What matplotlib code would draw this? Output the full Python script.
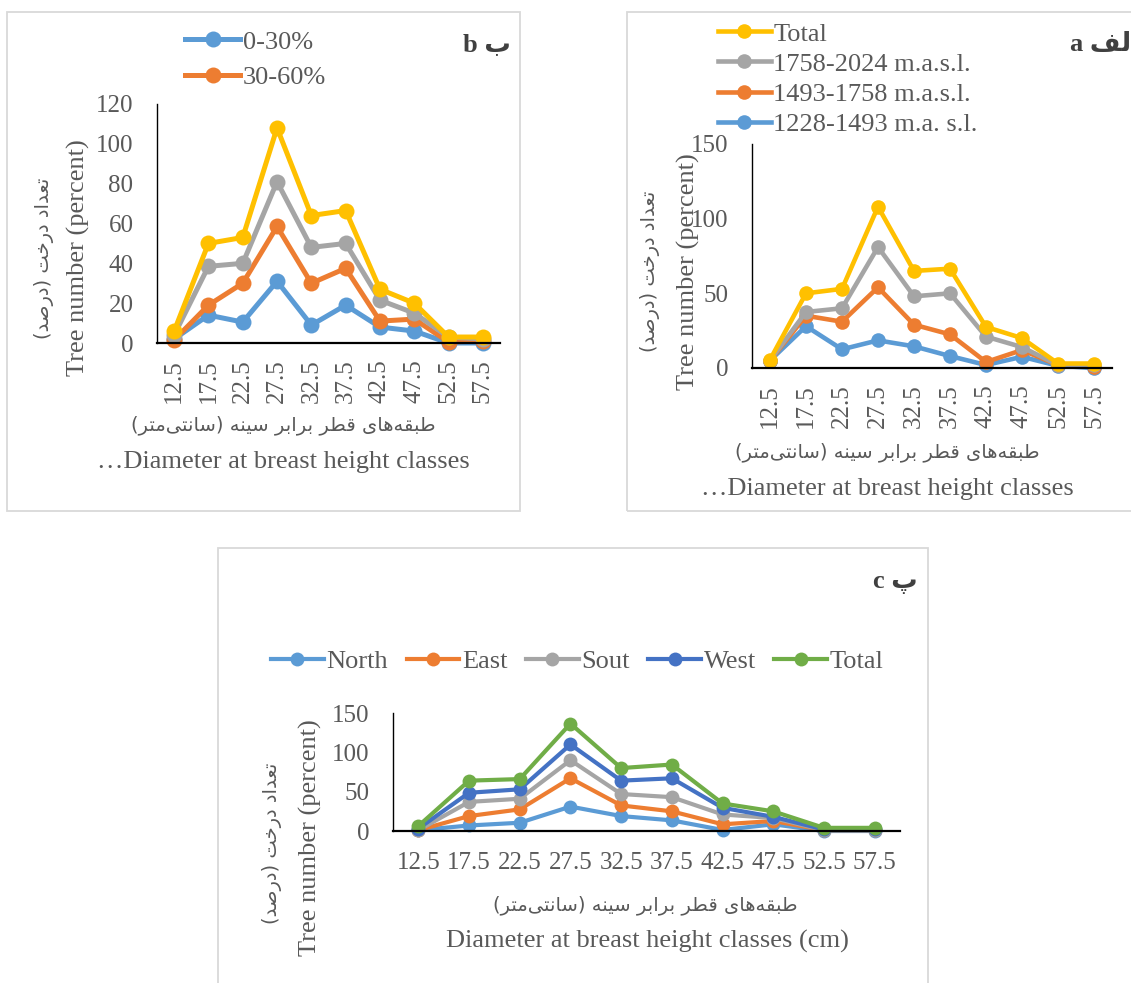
import matplotlib
matplotlib.use("Agg")
import matplotlib.pyplot as plt
from matplotlib.patches import Rectangle

# ---------------- data ----------------
classes = ['12.5', '17.5', '22.5', '27.5', '32.5', '37.5', '42.5', '47.5', '52.5', '57.5']

# panel b (slope classes)
b_0_30 = [2, 14, 10.5, 31, 9, 19, 8, 6, 0, 0]
b_30_60 = [1.5, 19, 30, 58.5, 30, 37.5, 11, 12, 0.5, 1]
b_gt60 = [4, 38.5, 40, 81, 48, 50, 21.5, 15, 3, 2]
b_total = [6, 50, 53, 108, 64, 66.5, 27, 20, 3, 3]
b_labels = ['0-30%', '30-60%', '>60%', 'Total']

# panel a (altitude classes)
a_low = [5, 28, 12.5, 18.5, 14.5, 8, 2, 7.5, 1.5, 0]
a_mid = [5, 35, 31, 54, 29, 22.5, 4, 12, 2, 1]
a_high = [5, 37.5, 40, 81, 48, 50, 21, 14, 2, 2]
a_total = [5.5, 50, 53, 108, 65, 66.5, 27.5, 20, 3, 3]
a_labels = ['1228-1493 m.a. s.l.', '1493-1758 m.a.s.l.', '1758-2024 m.a.s.l.', 'Total']

# panel c (aspect classes)
c_north = [1, 7, 10.5, 31, 19, 13.5, 1.3, 8.5, 0, 0]
c_east = [1, 19, 27.5, 67, 32.5, 25, 8.5, 12.7, 1, 1]
c_sout = [1, 37, 41, 90, 47, 43, 21, 16.5, 1, 1]
c_west = [3, 48.6, 53, 110, 64, 67, 29.5, 18, 2, 2]
c_total = [6.3, 64, 66, 136.5, 80, 84.5, 35, 25, 4, 4]
c_labels = ['North', 'East', 'Sout', 'West', 'Total']

ylab_en = 'Tree number (percent)'
ylab_fa = 'تعداد درخت (درصد)'
xlab_fa = 'طبقه\u200cهای قطر برابر سینه (سانتی\u200cمتر)'
xlab_en_ab = '\u2026Diameter at breast height classes'
xlab_en_c = 'Diameter at breast height classes (cm)'

# ---------------- simple Persian shaping (presentation forms + RTL) ----------------
_FORMS = {
    'ا': ('\uFE8D', '\uFE8E', None, None),
    'ب': ('\uFE8F', '\uFE90', '\uFE91', '\uFE92'),
    'پ': ('\uFB56', '\uFB57', '\uFB58', '\uFB59'),
    'ت': ('\uFE95', '\uFE96', '\uFE97', '\uFE98'),
    'خ': ('\uFEA5', '\uFEA6', '\uFEA7', '\uFEA8'),
    'د': ('\uFEA9', '\uFEAA', None, None),
    'ر': ('\uFEAD', '\uFEAE', None, None),
    'س': ('\uFEB1', '\uFEB2', '\uFEB3', '\uFEB4'),
    'ص': ('\uFEB9', '\uFEBA', '\uFEBB', '\uFEBC'),
    'ط': ('\uFEC1', '\uFEC2', '\uFEC3', '\uFEC4'),
    'ع': ('\uFEC9', '\uFECA', '\uFECB', '\uFECC'),
    'ف': ('\uFED1', '\uFED2', '\uFED3', '\uFED4'),
    'ق': ('\uFED5', '\uFED6', '\uFED7', '\uFED8'),
    'ل': ('\uFEDD', '\uFEDE', '\uFEDF', '\uFEE0'),
    'م': ('\uFEE1', '\uFEE2', '\uFEE3', '\uFEE4'),
    'ن': ('\uFEE5', '\uFEE6', '\uFEE7', '\uFEE8'),
    'ه': ('\uFEE9', '\uFEEA', '\uFEEB', '\uFEEC'),
    'ی': ('\uFBFC', '\uFBFD', '\uFBFE', '\uFBFF'),
}


def fa(s):
    out = []
    for i, c in enumerate(s):
        if c not in _FORMS:
            out.append(c)
            continue
        f = _FORMS[c]
        prev = s[i - 1] if i > 0 else ''
        nxt = s[i + 1] if i + 1 < len(s) else ''
        jp = prev in _FORMS and _FORMS[prev][2] is not None
        jn = f[2] is not None and nxt in _FORMS
        if jp and jn:
            out.append(f[3])
        elif jp:
            out.append(f[1])
        elif jn:
            out.append(f[2])
        else:
            out.append(f[0])
    vis = ''.join(ch for ch in out if ch != '\u200c')[::-1]
    return vis.translate(str.maketrans('()', ')('))


# ---------------- style ----------------
W, H = 1131, 983
SERIF = ['Liberation Serif', 'DejaVu Sans']
AR = ['DejaVu Sans']
TXT = '#595959'
BLUE, ORANGE, GRAY, YELLOW = '#5B9BD5', '#ED7D31', '#A5A5A5', '#FFC000'
DBLUE, GREEN = '#4472C4', '#70AD47'

plt.rcParams['font.family'] = SERIF

fig = plt.figure(figsize=(W / 100, H / 100), dpi=100)


def px_rect(l, t, r, b):
    return [l / W, 1 - b / H, (r - l) / W, (b - t) / H]


def fx(x):
    return x / W


def fy(y):
    return 1 - y / H


# panel borders
for (l, t, r, b) in [(7, 12, 520, 511), (627, 12, 1140, 511), (218, 548, 928, 995)]:
    fig.patches.append(Rectangle((fx(l), fy(b)), (r - l) / W, (b - t) / H,
                                 transform=fig.transFigure, fill=False,
                                 edgecolor='#D9D9D9', linewidth=1.3))


def style_axis(ax, ymax, ystep, rot, xpad, ypad, tfs):
    ax.set_xlim(-0.5, len(classes) - 0.5)
    ax.set_ylim(0, ymax)
    ax.set_yticks(range(0, ymax + 1, ystep))
    ax.set_xticks(range(len(classes)))
    ax.set_xticklabels(classes, rotation=rot)
    for s in ['top', 'right']:
        ax.spines[s].set_visible(False)
    ax.spines['left'].set_linewidth(1.0)
    ax.spines['bottom'].set_linewidth(1.6)
    ax.spines['left'].set_color('black')
    ax.spines['bottom'].set_color('black')
    ax.tick_params(axis='both', length=0, labelsize=tfs, labelcolor=TXT)
    ax.tick_params(axis='x', pad=xpad)
    ax.tick_params(axis='y', pad=ypad)
    ax.patch.set_alpha(0)


def plot_series(ax, series, lw, ms):
    lines = []
    x = range(len(classes))
    for vals, col, lab in series:
        ln, = ax.plot(x, vals, color=col, lw=lw, marker='o', ms=ms,
                      markeredgewidth=0, label=lab, clip_on=False,
                      solid_joinstyle='round')
        lines.append(ln)
    return lines


# ---------------- panel b ----------------
axb = fig.add_axes(px_rect(157, 104, 500, 343))
lb = plot_series(axb, [(b_0_30, BLUE, b_labels[0]), (b_30_60, ORANGE, b_labels[1]),
                       (b_gt60, GRAY, b_labels[2]), (b_total, YELLOW, b_labels[3])],
                 3.6, 11.5)
style_axis(axb, 120, 20, 90, 12, 17, 18)
fig.legend(handles=lb[:2], loc='center left', bbox_to_anchor=(fx(185), fy(59.5)),
           frameon=False, fontsize=19, handlelength=2.1, handletextpad=0.1,
           labelspacing=0.45, borderpad=0, borderaxespad=0, labelcolor=TXT)
fig.text(fx(463), fy(45), 'b ' + fa('ب'), fontsize=19, fontweight='bold',
         color='#404040', ha='left', va='center', family=SERIF)
fig.text(fx(78), fy(258), ylab_en, rotation=90, fontsize=19, color=TXT,
         ha='center', va='center')
fig.text(fx(44), fy(258), fa(ylab_fa), rotation=90, fontsize=14, color=TXT,
         ha='center', va='center', family=AR)
fig.text(fx(283), fy(425), fa(xlab_fa), fontsize=14, color=TXT,
         ha='center', va='center', family=AR)
fig.text(fx(283), fy(462), xlab_en_ab, fontsize=19, color=TXT,
         ha='center', va='center')

# ---------------- panel a ----------------
axa = fig.add_axes(px_rect(752, 144, 1112, 368))
la = plot_series(axa, [(a_low, BLUE, a_labels[0]), (a_mid, ORANGE, a_labels[1]),
                       (a_high, GRAY, a_labels[2]), (a_total, YELLOW, a_labels[3])],
                 3.3, 10.5)
style_axis(axa, 150, 50, 90, 12, 17, 18)
fig.legend(handles=la[::-1], loc='center left', bbox_to_anchor=(fx(718), fy(79)),
           frameon=False, fontsize=19, handlelength=2.0, handletextpad=0.1,
           labelspacing=0.25, borderpad=0, borderaxespad=0, labelcolor=TXT)
fig.text(fx(1070), fy(44), 'a ' + fa('الف'), fontsize=19, fontweight='bold',
         color='#404040', ha='left', va='center', family=SERIF)
fig.text(fx(688), fy(272), ylab_en, rotation=90, fontsize=19, color=TXT,
         ha='center', va='center')
fig.text(fx(650), fy(271), fa(ylab_fa), rotation=90, fontsize=14, color=TXT,
         ha='center', va='center', family=AR)
fig.text(fx(887), fy(452), fa(xlab_fa), fontsize=14, color=TXT,
         ha='center', va='center', family=AR)
fig.text(fx(887), fy(489), xlab_en_ab, fontsize=19, color=TXT,
         ha='center', va='center')

# ---------------- panel c ----------------
axc = fig.add_axes(px_rect(393, 713, 900, 831))
lc = plot_series(axc, [(c_north, BLUE, c_labels[0]), (c_east, ORANGE, c_labels[1]),
                       (c_sout, GRAY, c_labels[2]), (c_west, DBLUE, c_labels[3]),
                       (c_total, GREEN, c_labels[4])],
                 3.0, 10.0)
style_axis(axc, 150, 50, 0, 15, 17, 18)
fig.legend(handles=lc, loc='center left', bbox_to_anchor=(fx(271), fy(661)),
           frameon=False, fontsize=19, ncol=5, handlelength=2.0, handletextpad=0.1,
           columnspacing=0.7, borderpad=0, borderaxespad=0, labelcolor=TXT)
fig.text(fx(873), fy(582), 'c ' + fa('پ'), fontsize=19, fontweight='bold',
         color='#404040', ha='left', va='center', family=SERIF)
fig.text(fx(310), fy(838), ylab_en, rotation=90, fontsize=19, color=TXT,
         ha='center', va='center')
fig.text(fx(272), fy(843), fa(ylab_fa), rotation=90, fontsize=14, color=TXT,
         ha='center', va='center', family=AR)
fig.text(fx(645), fy(905), fa(xlab_fa), fontsize=14, color=TXT,
         ha='center', va='center', family=AR)
fig.text(fx(647), fy(941), xlab_en_c, fontsize=19, color=TXT,
         ha='center', va='center')

fig.savefig('out.png', dpi=100)
